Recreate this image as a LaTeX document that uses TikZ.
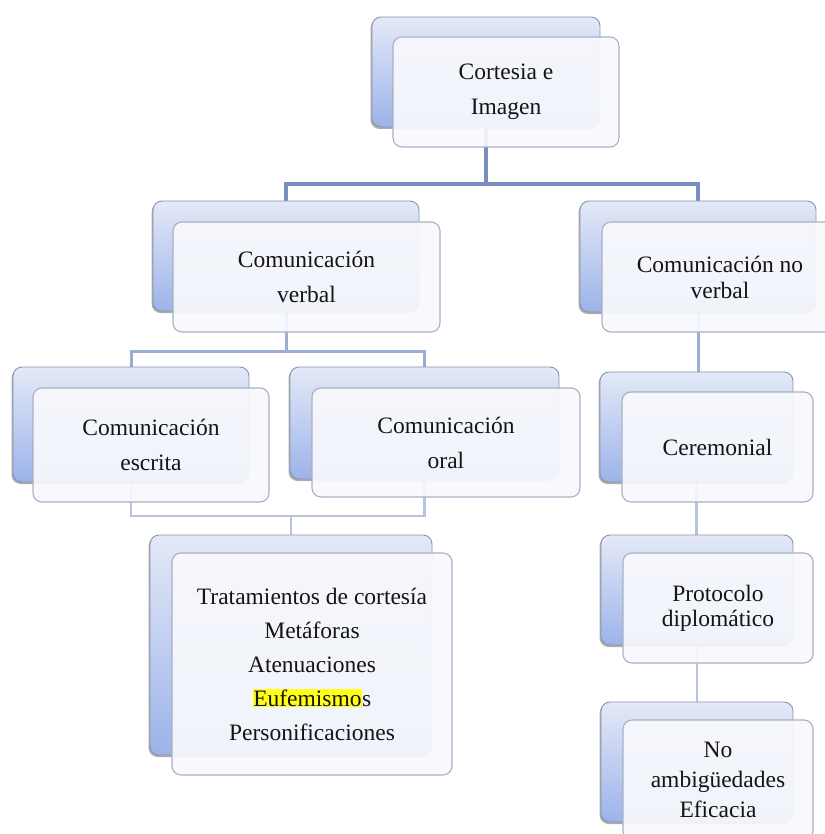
\documentclass[tikz,border=0pt]{standalone}
\usepackage{fontspec}
\setmainfont{Liberation Serif}
\usetikzlibrary{shadows}
\definecolor{backtop}{HTML}{E4E9F7}
\definecolor{backbot}{HTML}{9CB3EA}
\definecolor{backline}{HTML}{8A94B0}
\definecolor{frontline}{HTML}{A9B0C4}
\definecolor{frontfill}{HTML}{F8F9FD}
\definecolor{textcol}{HTML}{141414}
\definecolor{conA}{HTML}{7A8DC0}
\definecolor{conB}{HTML}{9DACD2}
\definecolor{conC}{HTML}{B7C3DD}
\definecolor{hilite}{HTML}{FFFF1A}
\pgfdeclarelayer{bg}
\pgfsetlayers{bg,main}
\begin{document}
\begin{tikzpicture}[x=1pt,y=-1pt,
  backbox/.style={draw=backline, line width=0.9pt, rounded corners=9pt,
    top color=backtop, bottom color=backbot, inner sep=0pt,
    drop shadow={shadow xshift=-1.4pt, shadow yshift=-2pt, fill=black!65, opacity=0.5}},
  frontbox/.style={draw=frontline, line width=1.1pt, rounded corners=9pt,
    fill=frontfill, fill opacity=0.92, text opacity=1, text=textcol,
    align=center, inner sep=0pt, font=\fontsize{23.5}{35}\selectfont},
  conone/.style={draw=conA, line width=3.5pt},
  contwo/.style={draw=conB, line width=3pt},
  conthree/.style={draw=conC, line width=2.5pt}]
\useasboundingbox (0,0) rectangle (824,834);

% root
\node[backbox, minimum width=228pt, minimum height=110pt] (topB) at (486,72) {};
\node[frontbox, minimum width=226pt, minimum height=110pt] (top) at (506,92) {Cortesia e\\Imagen};

% level 2
\node[backbox, minimum width=266pt, minimum height=110pt] (verbalB) at (286,256) {};
\node[frontbox, minimum width=267pt, minimum height=110pt] (verbal) at (306.5,277) {Comunicación\\verbal};

\node[backbox, minimum width=236pt, minimum height=111pt] (noverbalB) at (698,256.5) {};
\node[frontbox, minimum width=236pt, minimum height=110pt, font=\fontsize{23.5}{26}\selectfont] (noverbal) at (720,277) {Comunicación no\\verbal};

% level 3
\node[backbox, minimum width=236pt, minimum height=115pt] (escritaB) at (131,424.5) {};
\node[frontbox, minimum width=236pt, minimum height=114pt] (escrita) at (151,445) {Comunicación\\escrita};

\node[backbox, minimum width=269pt, minimum height=112pt] (oralB) at (424.5,423) {};
\node[frontbox, minimum width=268pt, minimum height=109pt] (oral) at (446,442.5) {Comunicación\\oral};

\node[backbox, minimum width=193pt, minimum height=110pt] (ceremB) at (696.5,427) {};
\node[frontbox, minimum width=191pt, minimum height=110pt] (cerem) at (717.5,447) {Ceremonial};

% level 4
\node[backbox, minimum width=282pt, minimum height=220pt] (listB) at (291,645) {};
\node[frontbox, minimum width=280pt, minimum height=222pt, font=\fontsize{23.5}{34}\selectfont] (list) at (312,664) {Tratamientos de cortesía\\Metáforas\\Atenuaciones\\{\setlength{\fboxsep}{0.5pt}\colorbox{hilite}{Eufemismo}}s\\Personificaciones};

\node[backbox, minimum width=192pt, minimum height=110pt] (protB) at (697,590) {};
\node[frontbox, minimum width=190pt, minimum height=110pt, font=\fontsize{23.5}{25}\selectfont] (prot) at (718,608) {Protocolo\\diplomático};

\node[backbox, minimum width=192pt, minimum height=120pt] (noambB) at (697,762) {};
\node[frontbox, minimum width=190pt, minimum height=120pt, font=\fontsize{23.5}{30}\selectfont] (noamb) at (718,780) {No\\ambigüedades\\Eficacia};

% connectors
\begin{pgfonlayer}{bg}
\coordinate (jA) at (topB.south |- 0,184);
\draw[conone] (topB.south) -- (jA);
\draw[conone] (verbalB.north) |- (jA) -| (noverbalB.north);

\coordinate (jB) at (verbalB.south |- 0,351);
\draw[contwo] (verbalB.south) -- (jB);
\draw[contwo] (escritaB.north) |- (jB) -| (oralB.north);
\draw[contwo] (noverbalB.south) -- (noverbalB.south |- ceremB.north);

\coordinate (jC) at (listB.north |- 0,516);
\draw[conthree] (escritaB.south) |- (jC) -| (oralB.south);
\draw[conthree] (jC) -- (listB.north);
\draw[conthree] (ceremB.south) -- (ceremB.south |- protB.north);
\draw[conthree] (protB.south) -- (protB.south |- noambB.north);
\end{pgfonlayer}
\end{tikzpicture}
\end{document}
